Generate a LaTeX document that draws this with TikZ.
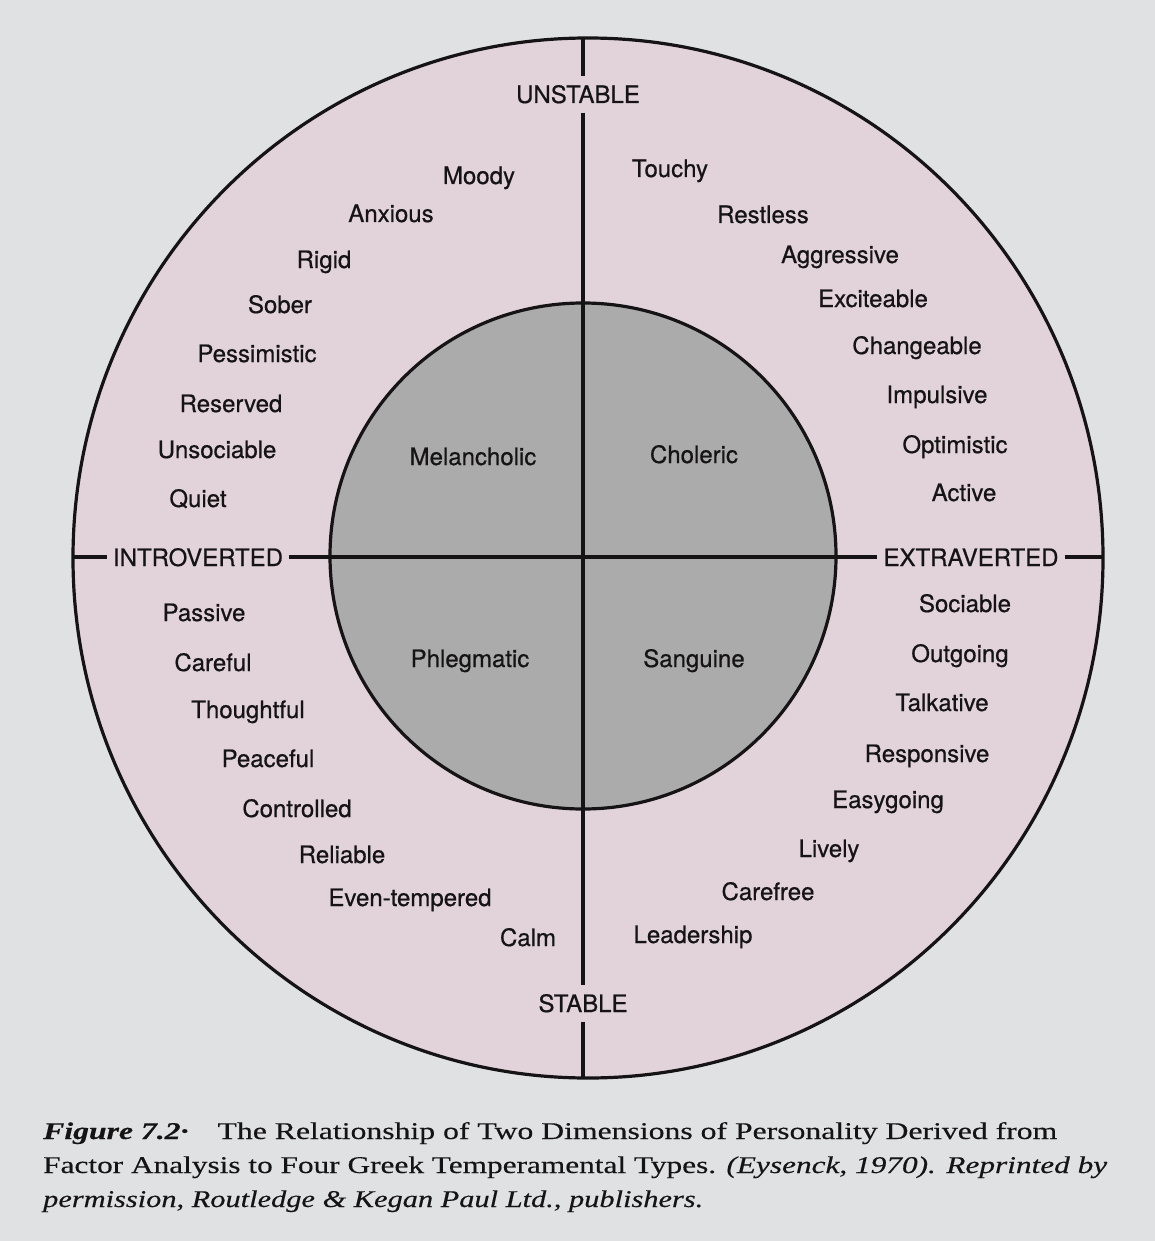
\documentclass[tikz,border=0pt]{standalone}
\usepackage{fontspec}
\setmainfont{Liberation Serif}[FakeBold=0.3]
\newfontfamily\labfont{TeX Gyre Heros}[FakeBold=0.6]
\usepackage{graphicx}
\definecolor{bg}{HTML}{DFE1E2}
\definecolor{pinkfill}{HTML}{E2D3DA}
\definecolor{grayfill}{HTML}{ABABAB}
\definecolor{ink}{HTML}{151314}
\newsavebox\fitbox
\newcommand\fitline[2]{\sbox\fitbox{#2}\pgfmathsetmacro\fitsx{#1/\the\wd\fitbox}\scalebox{\fitsx}[1]{\usebox\fitbox}}
\begin{document}
\begin{tikzpicture}[x=1pt,y=-1pt,
  lab/.style={font=\labfont\fontsize{24}{28}\selectfont, anchor=base, inner sep=0pt, text=ink},
  axislab/.style={lab, inner xsep=6pt, inner ysep=9pt},
  rule/.style={draw=ink, line width=3.2pt},
  capline/.style={anchor=base west, inner sep=0pt, text=ink, font=\fontsize{24}{28}\selectfont}]
\useasboundingbox (0,0) rectangle (1155,1241);
\fill[bg] (0,0) rectangle (1155,1241);
% circles
\filldraw[fill=pinkfill, rule] (588,558) ellipse [x radius=515, y radius=520];
\filldraw[fill=grayfill, rule] (583,556) circle [radius=253];
% axis end points
\coordinate (ctop) at (583,38);
\coordinate (cbot) at (583,1078);
\coordinate (cleft) at (73,557);
\coordinate (cright) at (1103,557);
% axis labels
\node[axislab] (unst) at (578,103) {UNSTABLE};
\node[axislab] (stab) at (583,1012) {STABLE};
\node[axislab] (intro) at (198,566) {INTROVERTED};
\node[axislab] (extra) at (971,566) {EXTRAVERTED};
% axes
\draw[rule] (ctop) -- (ctop |- unst.north);
\draw[rule] (ctop |- unst.south) -- (ctop |- stab.north);
\draw[rule] (ctop |- stab.south) -- (cbot);
\draw[rule] (cleft) -- (cleft -| intro.west);
\draw[rule] (cleft -| intro.east) -- (cleft -| extra.west);
\draw[rule] (cleft -| extra.east) -- (cright);
% inner types
\node[lab] (melan) at (473,465) {Melancholic};
\node[lab] (chol) at (694,463) {Choleric};
\node[lab] (phleg) at (470,667) {Phlegmatic};
\node[lab] (sang) at (694,667) {Sanguine};
% upper left
\node[lab] (moody) at (479,184) {Moody};
\node[lab] (anx) at (391,222) {Anxious};
\node[lab] (rigid) at (324,268) {Rigid};
\node[lab] (sober) at (280,313) {Sober};
\node[lab] (pess) at (257,362) {Pessimistic};
\node[lab] (resv) at (231,412) {Reserved};
\node[lab] (unsoc) at (217,458) {Unsociable};
\node[lab] (quiet) at (198,507) {Quiet};
% upper right
\node[lab] (touchy) at (670,177) {Touchy};
\node[lab] (restl) at (763,223) {Restless};
\node[lab] (aggr) at (840,263) {Aggressive};
\node[lab] (excit) at (873,307) {Exciteable};
\node[lab] (chang) at (917,354) {Changeable};
\node[lab] (impul) at (937,403) {Impulsive};
\node[lab] (optim) at (955,453) {Optimistic};
\node[lab] (active) at (964,501) {Active};
% lower left
\node[lab] (passive) at (204,621) {Passive};
\node[lab] (careful) at (213,671) {Careful};
\node[lab] (thought) at (248,718) {Thoughtful};
\node[lab] (peace) at (268,767) {Peaceful};
\node[lab] (contr) at (297,817) {Controlled};
\node[lab] (reli) at (342,863) {Reliable};
\node[lab] (even) at (410,906) {Even-tempered};
\node[lab] (calm) at (528,946) {Calm};
% lower right
\node[lab] (sociab) at (965,612) {Sociable};
\node[lab] (outg) at (960,662) {Outgoing};
\node[lab] (talk) at (942,711) {Talkative};
\node[lab] (resp) at (927,762) {Responsive};
\node[lab] (easy) at (888,808) {Easygoing};
\node[lab] (lively) at (829,857) {Lively};
\node[lab] (carefr) at (768,900) {Carefree};
\node[lab] (lead) at (693,943) {Leadership};
% caption
\node[capline] (cap1) at (43,1139) {\fitline{1014}{\textbf{\textit{Figure 7.2·}}\hspace{22pt}The Relationship of Two Dimensions of Personality Derived from}};
\node[capline] (cap2) at (43,1173) {\fitline{1064}{Factor Analysis to Four Greek Temperamental Types. \textit{(Eysenck, 1970). Reprinted by}}};
\node[capline] (cap3) at (43,1207) {\fitline{660}{\textit{permission, Routledge \& Kegan Paul Ltd., publishers.}}};
\end{tikzpicture}
\end{document}
